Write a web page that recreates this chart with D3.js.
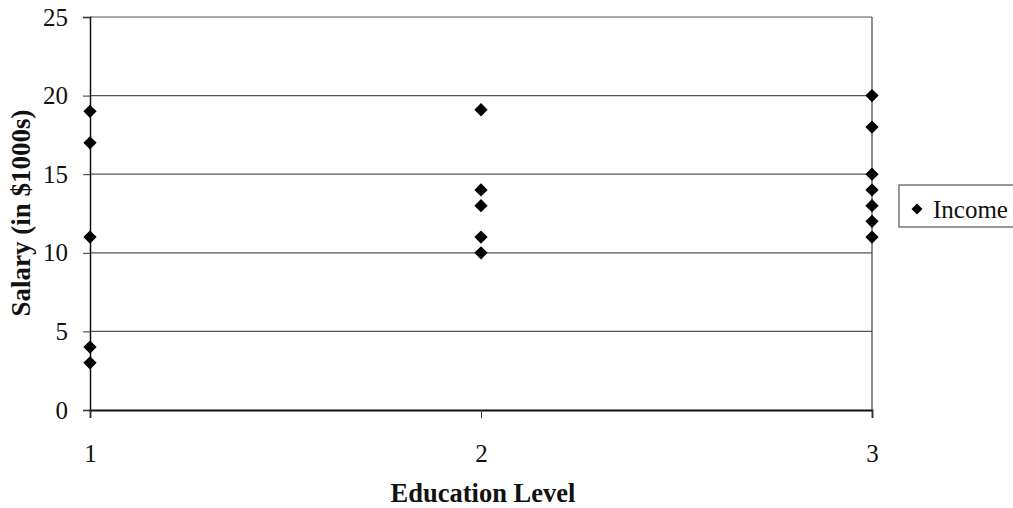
<!DOCTYPE html>
<html><head><meta charset="utf-8">
<script src="https://cdn.jsdelivr.net/npm/d3@7"></script>
<style>body{margin:0;background:#fff}svg{display:block}</style>
</head><body>
<svg id="c" width="1013" height="508"></svg>
<script>
const level1 = [19, 17, 11, 4, 3];
const level2 = [19.1, 14, 13, 11, 10];
const level3 = [20, 18, 15, 14, 13, 12, 11];
const yTicks = [0, 5, 10, 15, 20, 25];
const xTicks = [1, 2, 3];
const seriesName = "Income";

const points = [];
[level1, level2, level3].forEach((arr, i) => arr.forEach(v => points.push({x: i + 1, y: v})));

const svg = d3.select("#c");
const font = "'Liberation Serif','Times New Roman',serif";
const x = d3.scaleLinear().domain([1, 3]).range([90, 872]);
const y = d3.scaleLinear().domain([0, 25]).range([410, 17]);

// gridlines
svg.append("g").selectAll("line").data(yTicks.filter(d => d > 0)).join("line")
  .attr("x1", x(1)).attr("x2", x(3)).attr("y1", d => y(d)).attr("y2", d => y(d))
  .attr("stroke", "#555").attr("stroke-width", 1.2);

// y axis
const yAxis = svg.append("g").attr("transform", `translate(${x(1)},0)`)
  .call(d3.axisLeft(y).tickValues(yTicks).tickSize(7).tickPadding(15));
yAxis.select(".domain").attr("stroke", "#111").attr("stroke-width", 1.5);
yAxis.selectAll(".tick line").attr("stroke", "#333");
yAxis.selectAll("text").attr("font-family", font).attr("font-size", 25).attr("fill", "#111");

// right border
svg.append("line").attr("x1", x(3)).attr("x2", x(3)).attr("y1", y(25)).attr("y2", y(0))
  .attr("stroke", "#444").attr("stroke-width", 1.2);

// x axis
const xAxis = svg.append("g").attr("transform", `translate(0,${y(0)})`)
  .call(d3.axisBottom(x).tickValues(xTicks).tickFormat(d3.format("d")).tickSize(8).tickPadding(26));
xAxis.select(".domain").attr("stroke", "#111").attr("stroke-width", 1.8);
xAxis.selectAll(".tick line").attr("stroke", "#333");
xAxis.selectAll("text").attr("font-family", font).attr("font-size", 25).attr("fill", "#111");

// points
const sym = d3.symbol().type(d3.symbolSquare).size(88);
svg.append("g").selectAll("path").data(points).join("path")
  .attr("d", sym)
  .attr("transform", d => `translate(${x(d.x)},${y(d.y)}) rotate(45)`)
  .attr("fill", "#000");

// axis titles
svg.append("text").attr("x", 483).attr("y", 502).attr("text-anchor", "middle")
  .attr("font-family", font).attr("font-weight", "bold").attr("font-size", 26.5).attr("fill", "#111")
  .text("Education Level");
svg.append("text").attr("transform", "translate(30,213) rotate(-90)").attr("text-anchor", "middle")
  .attr("font-family", font).attr("font-weight", "bold").attr("font-size", 27).attr("fill", "#111")
  .text("Salary (in $1000s)");

// legend
const lg = svg.append("g");
lg.append("rect").attr("x", 899).attr("y", 185).attr("width", 118).attr("height", 42)
  .attr("fill", "#fff").attr("stroke", "#555").attr("stroke-width", 1.2);
lg.append("path").attr("d", d3.symbol().type(d3.symbolSquare).size(60)())
  .attr("transform", "translate(917,209) rotate(45)").attr("fill", "#000");
lg.append("text").attr("x", 933).attr("y", 218).attr("font-family", font).attr("font-size", 25)
  .attr("fill", "#111").text(seriesName);
</script>
</body></html>
